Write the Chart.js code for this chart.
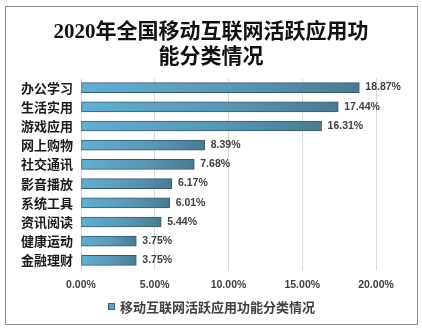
<!DOCTYPE html>
<html><head><meta charset="utf-8">
<script src="https://cdn.jsdelivr.net/npm/chart.js@4/dist/chart.umd.min.js"></script>
<style>html,body{margin:0;padding:0;background:#fff}#wrap{width:422px;height:331px}</style>
</head><body><div id="wrap"><canvas id="c" width="422" height="331"></canvas></div>
<script>
const titleLines = ["2020年全国移动互联网活跃应用功", "能分类情况"];
const seriesName = "移动互联网活跃应用功能分类情况";
const categories = ["办公学习","生活实用","游戏应用","网上购物","社交通讯","影音播放","系统工具","资讯阅读","健康运动","金融理财"];
const values = [18.87,17.44,16.31,8.39,7.68,6.17,6.01,5.44,3.75,3.75];
const xTicks = [0,5,10,15,20];

const CJK = '"Noto Sans CJK SC", "Noto Sans", sans-serif';
const SERIF = '"Liberation Serif", "Noto Sans CJK SC", serif';

function barFill(ctx){
  const chart = ctx.chart;
  const xs = chart.scales && chart.scales.x;
  if(!xs || ctx.dataIndex===undefined) return '#5a9fbf';
  const x0 = xs.getPixelForValue(0), x1 = xs.getPixelForValue(values[ctx.dataIndex]);
  if(!isFinite(x0)||!isFinite(x1)||x1<=x0) return '#5a9fbf';
  const g = chart.ctx.createLinearGradient(x0,0,x1,0);
  g.addColorStop(0,'#62aed2');
  g.addColorStop(0.6,'#5895b3');
  g.addColorStop(1,'#4a7a90');
  return g;
}

const deco = {
  id:'deco',
  beforeDraw(chart){
    const c = chart.ctx;
    c.save();
    c.fillStyle='#fff'; c.fillRect(0,0,422,331);
    c.strokeStyle='#8c8c8c'; c.lineWidth=1;
    c.strokeRect(5.5,6.5,412,318);
    c.fillStyle='#111';
    c.font='bold 21px '+SERIF;
    c.textAlign='center'; c.textBaseline='middle';
    c.fillText(titleLines[0],211,33);
    c.fillText(titleLines[1],211,58);
    c.restore();
  },
  afterDatasetsDraw(chart){
    const c = chart.ctx;
    const meta = chart.getDatasetMeta(0);
    c.save();
    c.font='bold 10.5px "Liberation Sans", sans-serif';
    c.fillStyle='#404040';
    c.textAlign='left'; c.textBaseline='middle';
    meta.data.forEach((el,i)=>{
      c.fillText(values[i].toFixed(2)+'%', el.x+6, el.y);
    });
    // legend
    c.fillStyle='#5a9fbf'; c.strokeStyle='#3b6a80'; c.lineWidth=1;
    c.fillRect(108,303,7,7); c.strokeRect(108.5,303.5,6,6);
    c.fillStyle='#404040';
    c.font='bold 13px '+CJK;
    c.fillText(seriesName,120,307);
    c.restore();
  }
};

new Chart(document.getElementById('c'),{
  type:'bar',
  data:{labels:categories,datasets:[{label:seriesName,data:values,backgroundColor:barFill,borderColor:'#335d70',borderWidth:1,borderSkipped:false,barThickness:10}]},
  options:{
    indexAxis:'y',
    responsive:false,
    animation:false,
    devicePixelRatio:1,
    layout:{padding:{left:0,right:46,top:78,bottom:37}},
    plugins:{legend:{display:false},title:{display:false},tooltip:{enabled:false}},
    scales:{
      x:{min:0,max:20,
        afterBuildTicks(s){s.ticks=xTicks.map(v=>({value:v}));},
        ticks:{callback:v=>Number(v).toFixed(2)+'%',color:'#404040',font:{family:'"Liberation Sans", sans-serif',size:10.5,weight:'bold'},padding:9,maxRotation:0},
        grid:{color:'#d9d9d9',drawTicks:false},
        border:{display:false},
        afterFit(s){s.height=24;}
      },
      y:{
        ticks:{color:'#1a1a1a',font:{family:CJK,size:13,weight:'bold'},padding:8},
        grid:{display:false,drawTicks:false},
        border:{display:true,color:'#d9d9d9'},
        afterFit(s){s.width=81;}
      }
    }
  },
  plugins:[deco]
});
</script></body></html>
